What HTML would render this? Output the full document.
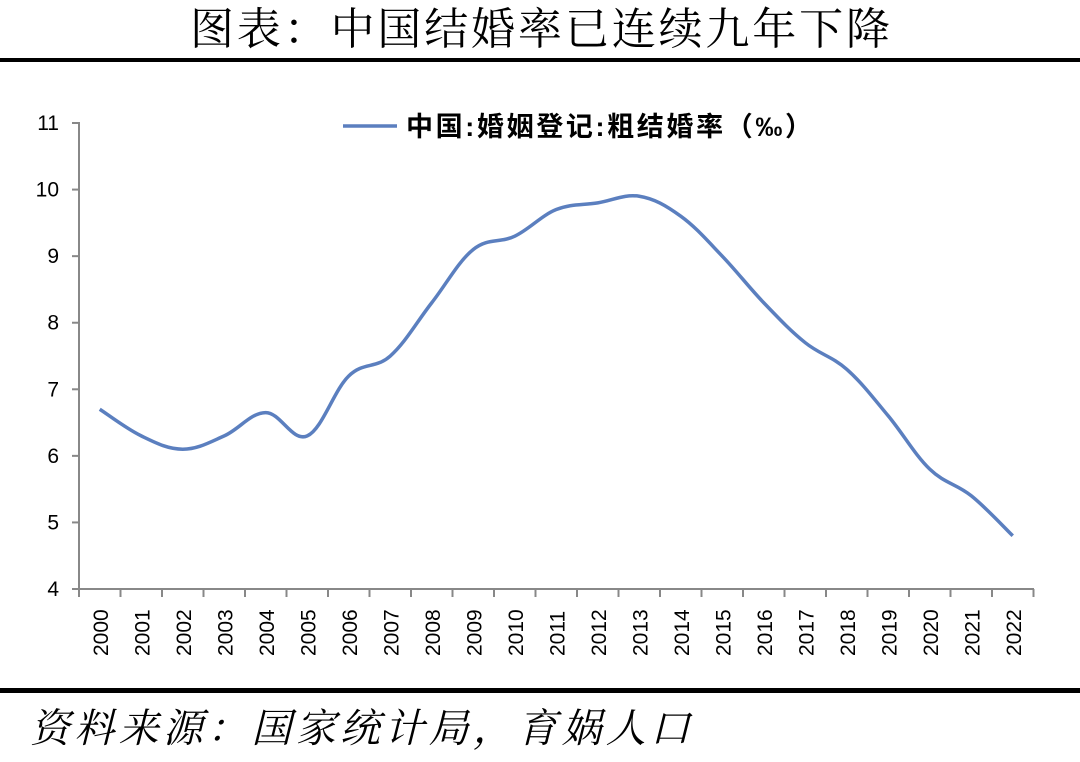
<!DOCTYPE html>
<html><head><meta charset="utf-8"><style>
body{margin:0;background:#fff;width:1080px;height:757px;overflow:hidden;}
</style></head><body>
<svg width="1080" height="757" xmlns="http://www.w3.org/2000/svg" font-family="Liberation Sans, Noto Sans CJK SC, sans-serif">
<text x="190" y="44" font-size="44" font-family="Noto Serif CJK SC, serif" textLength="700" lengthAdjust="spacing">图表：中国结婚率已连续九年下降</text>
<rect x="0" y="58" width="1080" height="4" fill="#000"/>
<rect x="0" y="688" width="1080" height="5" fill="#000"/>
<g transform="translate(30,742) skewX(-14)">
<text x="0" y="0" font-size="40" font-family="Noto Serif CJK SC, serif" textLength="660" lengthAdjust="spacing">资料来源：国家统计局，育娲人口</text>
</g>
<g stroke="#888" stroke-width="2" fill="none">
<line x1="79" y1="122" x2="79" y2="590"/>
<line x1="78" y1="589" x2="1034" y2="589"/>
</g>
<g stroke="#888" stroke-width="2" id="yt"></g>
<g style="font-size:21px" fill="#000" text-anchor="end" id="yl"></g>
<g stroke="#888" stroke-width="2" id="xt"></g>
<g style="font-size:21px" fill="#000" id="xl"></g>
<line x1="343" y1="126" x2="397" y2="126" stroke="#5b7fbf" stroke-width="3.5"/>
<text x="406" y="136" font-size="27" font-weight="bold" textLength="406" lengthAdjust="spacing">中国:婚姻登记:粗结婚率（‰）</text>
<path id="ln" fill="none" stroke="#5b7fbf" stroke-width="3.5" stroke-linejoin="round"/>
</svg>
<script>
var ns="http://www.w3.org/2000/svg";
function y(v){return 589-(v-4)*66.57;}
function el(p,t,a,txt){var e=document.createElementNS(ns,t);for(var k in a)e.setAttribute(k,a[k]);if(txt)e.textContent=txt;document.getElementById(p).appendChild(e);}
for(var v=4;v<=11;v++){el("yt","line",{x1:72,x2:79,y1:y(v),y2:y(v)});el("yl","text",{x:59,y:y(v)+7},String(v));}
for(var i=0;i<=23;i++){var x=79+i*41.5;el("xt","line",{x1:x,x2:x,y1:589,y2:597});}
for(var i=0;i<23;i++){var cx=79+41.5*(i+0.5);el("xl","text",{x:0,y:0,transform:"translate("+(cx+8)+",656) rotate(-90)"},String(2000+i));}
var d=[6.7,6.3,6.1,6.3,6.65,6.3,7.2,7.5,8.3,9.1,9.3,9.7,9.8,9.9,9.6,9.0,8.3,7.7,7.3,6.6,5.8,5.4,4.8];
var P=d.map(function(v,i){return [79+41.5*(i+0.5),y(v)];});
var s="M"+P[0][0]+","+P[0][1];
for(var i=0;i<P.length-1;i++){var p0=P[i-1]||P[i],p1=P[i],p2=P[i+1],p3=P[i+2]||p2;var t=0.18;
s+=" C"+(p1[0]+(p2[0]-p0[0])*t)+","+(p1[1]+(p2[1]-p0[1])*t)+" "+(p2[0]-(p3[0]-p1[0])*t)+","+(p2[1]-(p3[1]-p1[1])*t)+" "+p2[0]+","+p2[1];}
document.getElementById("ln").setAttribute("d",s);
</script>
</body></html>
